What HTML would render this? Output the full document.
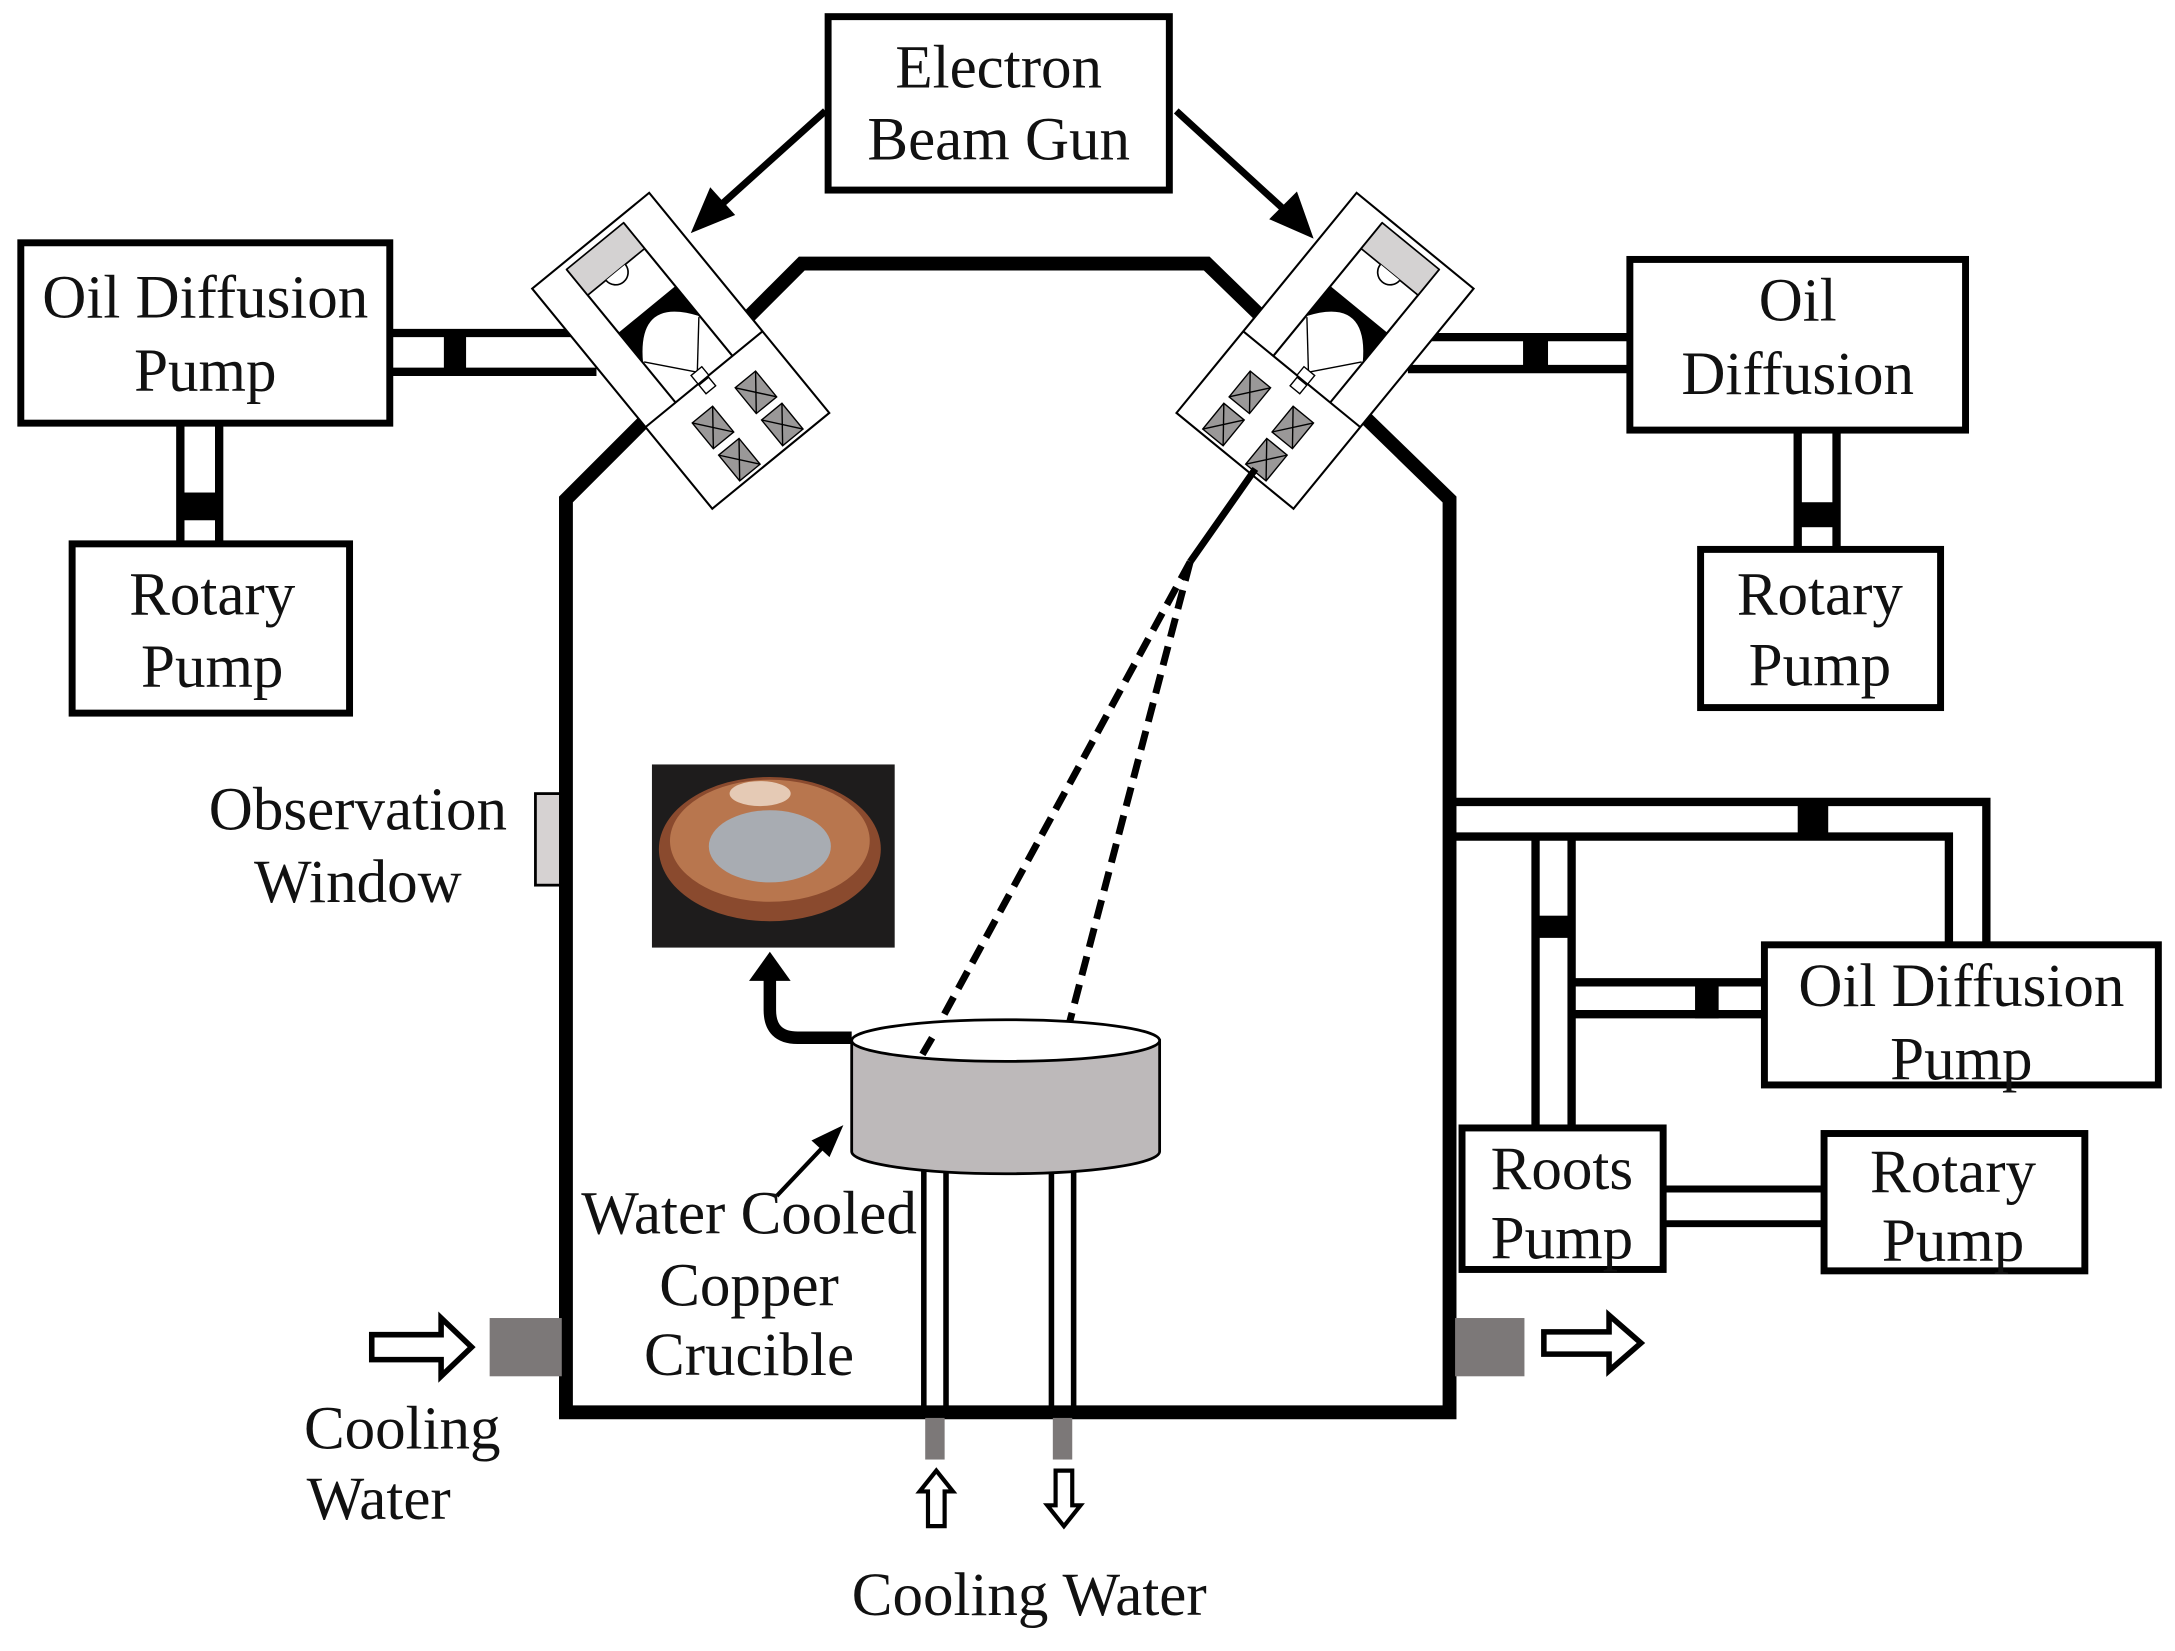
<!DOCTYPE html>
<html><head><meta charset="utf-8"><style>html,body{margin:0;padding:0;background:#fff}svg{display:block}</style></head>
<body>
<svg width="2175" height="1651" viewBox="0 0 1568 1190" preserveAspectRatio="none" xmlns="http://www.w3.org/2000/svg" font-family="Liberation Serif, serif" font-size="44" text-anchor="middle">
<defs>
<g id="gun">
  <rect x="0" y="0" width="205" height="109" fill="#fff" stroke="#000" stroke-width="1.5"/>
  <line x1="5" y1="28" x2="129" y2="28" stroke="#000" stroke-width="1.5"/>
  <line x1="5" y1="81" x2="129" y2="81" stroke="#000" stroke-width="1.5"/>
  <line x1="129" y1="0" x2="129" y2="109" stroke="#000" stroke-width="1.5"/>
  <rect x="5" y="28" width="24" height="53" fill="#d4d2d2" stroke="#000" stroke-width="1.2"/>
  <path d="M29 46 a9 9 0 0 1 0 18" fill="#fff" stroke="#000" stroke-width="1.2"/>
  <path d="M64 28 L92 28 Q52 54 92 81 L64 81 Z" fill="#000"/>
  <line x1="92" y1="29" x2="122" y2="55" stroke="#000" stroke-width="1"/>
  <line x1="92" y1="80" x2="122" y2="55" stroke="#000" stroke-width="1"/>
  <rect x="121" y="50" width="8" height="10" fill="#fff" stroke="#000" stroke-width="1"/>
  <rect x="130" y="51" width="8" height="9" fill="#fff" stroke="#000" stroke-width="1"/>
  <g stroke="#000" stroke-width="1" fill="#9a9898">
    <rect x="148" y="22" width="24" height="19"/><path d="M148 22 L172 41 M172 22 L148 41"/>
    <rect x="178" y="22" width="24" height="19"/><path d="M178 22 L202 41 M202 22 L178 41"/>
    <rect x="148" y="62" width="24" height="19"/><path d="M148 62 L172 81 M172 62 L148 81"/>
    <rect x="178" y="62" width="24" height="19"/><path d="M178 62 L202 81 M202 62 L178 81"/>
  </g>
</g>
</defs>

<polygon points="408,1018 408,360 578,190 870,190 1045,360 1045,1018" fill="none" stroke="#000" stroke-width="10"/>

<line x1="281" y1="240" x2="430" y2="240" stroke="#000" stroke-width="6"/>
<line x1="281" y1="268" x2="430" y2="268" stroke="#000" stroke-width="6"/>
<rect x="320" y="240" width="16" height="28" fill="#000"/>
<line x1="130" y1="305" x2="130" y2="392" stroke="#000" stroke-width="6"/>
<line x1="158" y1="305" x2="158" y2="392" stroke="#000" stroke-width="6"/>
<rect x="130" y="355" width="28" height="20" fill="#000"/>

<line x1="1015" y1="243" x2="1175" y2="243" stroke="#000" stroke-width="6"/>
<line x1="1015" y1="266" x2="1175" y2="266" stroke="#000" stroke-width="6"/>
<rect x="1098" y="243" width="18" height="23" fill="#000"/>
<line x1="1296" y1="310" x2="1296" y2="396" stroke="#000" stroke-width="6"/>
<line x1="1324" y1="310" x2="1324" y2="396" stroke="#000" stroke-width="6"/>
<rect x="1296" y="362" width="28" height="18" fill="#000"/>

<polyline points="1045,578 1432,578 1432,683" fill="none" stroke="#000" stroke-width="6"/>
<polyline points="1045,603 1405,603 1405,683" fill="none" stroke="#000" stroke-width="6"/>
<rect x="1296" y="578" width="22" height="25" fill="#000"/>
<line x1="1107" y1="603" x2="1107" y2="813" stroke="#000" stroke-width="6"/>
<line x1="1133" y1="603" x2="1133" y2="813" stroke="#000" stroke-width="6"/>
<rect x="1107" y="660" width="26" height="16" fill="#000"/>
<line x1="1133" y1="708" x2="1272" y2="708" stroke="#000" stroke-width="6"/>
<line x1="1133" y1="731" x2="1272" y2="731" stroke="#000" stroke-width="6"/>
<rect x="1222" y="708" width="17" height="26" fill="#000"/>
<line x1="1199" y1="857" x2="1315" y2="857" stroke="#000" stroke-width="5"/>
<line x1="1199" y1="882" x2="1315" y2="882" stroke="#000" stroke-width="5"/>

<use href="#gun" transform="translate(468,139) rotate(50.7)"/>
<g transform="translate(1446,0) scale(-1,1)"><use href="#gun" transform="translate(468,139) rotate(50.7)"/></g>

<g fill="#fff" stroke="#000" stroke-width="5">
<rect x="597" y="12" width="246" height="125"/>
<rect x="15" y="175" width="266" height="130"/>
<rect x="52" y="392" width="200" height="122"/>
<rect x="1175" y="187" width="242" height="123"/>
<rect x="1226" y="396" width="173" height="114"/>
<rect x="1272" y="681" width="284" height="101"/>
<rect x="1054" y="813" width="145" height="102"/>
<rect x="1315" y="817" width="188" height="99"/>
</g>

<line x1="595" y1="80" x2="515" y2="152" stroke="#000" stroke-width="5"/>
<polygon points="498,168 512,135 530,155" fill="#000"/>
<line x1="848" y1="80" x2="930" y2="155" stroke="#000" stroke-width="5"/>
<polygon points="947,172 915,158 935,138" fill="#000"/>

<polyline points="905,338 858,405" fill="none" stroke="#000" stroke-width="5"/>
<line x1="858" y1="405" x2="665" y2="760" stroke="#000" stroke-width="5" stroke-dasharray="14,7"/>
<line x1="858" y1="405" x2="765" y2="760" stroke="#000" stroke-width="5" stroke-dasharray="14,7"/>

<g stroke="#000" stroke-width="4">
<line x1="666" y1="838" x2="666" y2="1018"/><line x1="682" y1="838" x2="682" y2="1018"/>
<line x1="758" y1="838" x2="758" y2="1018"/><line x1="774" y1="838" x2="774" y2="1018"/>
</g>
<rect x="667" y="1022" width="14" height="30" fill="#7c7878"/>
<rect x="759" y="1022" width="14" height="30" fill="#7c7878"/>
<polygon points="669,1100 669,1075 663,1075 675,1060 687,1075 681,1075 681,1100" fill="#fff" stroke="#000" stroke-width="3"/>
<polygon points="761,1060 761,1085 755,1085 767,1100 779,1085 773,1085 773,1060" fill="#fff" stroke="#000" stroke-width="3"/>

<path d="M614 750 L614 830 A111 16 0 0 0 836 830 L836 750 Z" fill="#bdb9ba" stroke="#000" stroke-width="2"/>
<ellipse cx="725" cy="750" rx="111" ry="15" fill="#fff" stroke="#000" stroke-width="2"/>
<line x1="665" y1="760" x2="672" y2="748" stroke="#000" stroke-width="5"/>

<path d="M614 748 L575 748 Q555 748 555 728 L555 705" fill="none" stroke="#000" stroke-width="9"/>
<polygon points="540,707 555,686 570,707" fill="#000"/>

<rect x="470" y="551" width="175" height="132" fill="#1e1c1c"/>
<ellipse cx="555" cy="612" rx="80" ry="52" fill="#8a4a2e"/>
<ellipse cx="555" cy="606" rx="72" ry="44" fill="#b8764e"/>
<ellipse cx="555" cy="610" rx="44" ry="26" fill="#a8acb2"/>
<ellipse cx="548" cy="572" rx="22" ry="9" fill="#f0e0d0" opacity="0.8"/>

<line x1="560" y1="862" x2="595" y2="825" stroke="#000" stroke-width="3"/>
<polygon points="608,811 585,822 598,834" fill="#000"/>

<rect x="386" y="572" width="18" height="66" fill="#d6d2d2" stroke="#000" stroke-width="2"/>

<rect x="353" y="950" width="52" height="42" fill="#7c7878"/>
<rect x="1049" y="950" width="50" height="42" fill="#7c7878"/>
<polygon points="268,962 318,962 318,950 340,971 318,992 318,980 268,980" fill="#fff" stroke="#000" stroke-width="4"/>
<polygon points="1113,960 1160,960 1160,948 1183,968 1160,988 1160,976 1113,976" fill="#fff" stroke="#000" stroke-width="4"/>

<g fill="#111">
<text x="720" y="63">Electron</text>
<text x="720" y="115">Beam Gun</text>
<text x="148" y="229">Oil Diffusion</text>
<text x="148" y="282">Pump</text>
<text x="153" y="443">Rotary</text>
<text x="153" y="495">Pump</text>
<text x="1296" y="231">Oil</text>
<text x="1296" y="284">Diffusion</text>
<text x="1312" y="443">Rotary</text>
<text x="1312" y="494">Pump</text>
<text x="258" y="598">Observation</text>
<text x="258" y="650">Window</text>
<text x="1414" y="725">Oil Diffusion</text>
<text x="1414" y="778">Pump</text>
<text x="1126" y="857">Roots</text>
<text x="1126" y="907">Pump</text>
<text x="1408" y="859">Rotary</text>
<text x="1408" y="909">Pump</text>
<text x="540" y="889">Water Cooled</text>
<text x="540" y="941">Copper</text>
<text x="540" y="991">Crucible</text>
<text x="290" y="1044">Cooling</text>
<text x="273" y="1095">Water</text>
<text x="742" y="1164">Cooling Water</text>
</g>
</svg>
</body></html>
